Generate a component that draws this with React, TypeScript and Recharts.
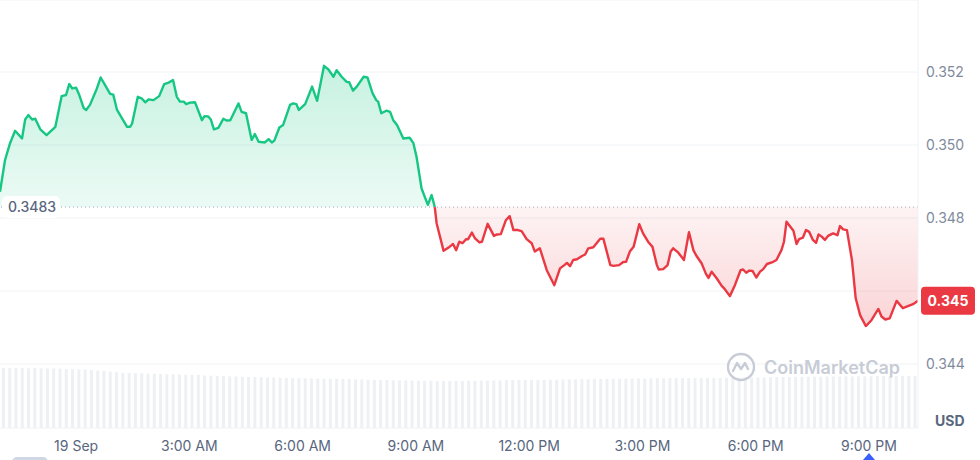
import {
  ComposedChart,
  BarChart,
  Bar,
  Area,
  XAxis,
  YAxis,
  CartesianGrid,
  ReferenceLine,
} from 'recharts';

// minutes from 00:00, 19 Sep
const times = [
  -121, -113, -105, -97, -86, -81, -76, -70, -65, -57,
  -47, -33, -23, -16, -11, -6, 0, 5, 12, 16,
  22, 33, 39, 46, 54, 59, 65, 73, 81, 86,
  89, 98, 104, 110, 115, 123, 132, 140, 147, 154,
  160, 165, 171, 175, 181, 189, 200, 204, 210, 214,
  219, 226, 234, 239, 245, 258, 263, 270, 279, 284,
  290, 300, 306, 311, 315, 323, 329, 340, 345, 350,
  354, 364, 375, 383, 394, 401, 409, 414, 422, 430,
  434, 440, 446, 457, 463, 471, 477, 480, 485, 493,
  499, 504, 510, 520, 530, 536, 541, 549, 559, 565,
  570, 573, 584, 592, 599, 604, 609, 614, 620, 623,
  629, 634, 641, 645, 654, 664, 669, 675, 683, 689,
  695, 702, 708, 716, 724, 729, 737, 748, 760, 769,
  776, 780, 785, 790, 796, 804, 809, 814, 822, 833,
  838, 849, 854, 863, 869, 874, 880, 886, 895, 901,
  909, 916, 923, 926, 933, 940, 945, 949, 957, 966,
  974, 981, 986, 994, 1001, 1005, 1010, 1018, 1026, 1031,
  1039, 1047, 1056, 1060, 1065, 1070, 1075, 1081, 1087, 1092,
  1098, 1108, 1113, 1121, 1125, 1129, 1140, 1145, 1149, 1155,
  1160, 1165, 1171, 1176, 1180, 1185, 1190, 1195, 1203, 1210,
  1214, 1219, 1225, 1233, 1239, 1246, 1255, 1264, 1275, 1280,
  1286, 1293, 1304, 1314, 1320, 1330, 1338,
];

const prices = [
  0.34872, 0.34959, 0.35005, 0.35039, 0.35018, 0.3507, 0.35082, 0.3507, 0.35072, 0.35043,
  0.35027, 0.3505, 0.35134, 0.35137, 0.35167, 0.35155, 0.35157, 0.35137, 0.35101, 0.35096,
  0.3511, 0.35155, 0.35185, 0.35164, 0.3514, 0.35138, 0.35096, 0.35073, 0.3505, 0.3505,
  0.35059, 0.35132, 0.35128, 0.35117, 0.35125, 0.35123, 0.35134, 0.35167, 0.35171, 0.35178,
  0.35132, 0.35119, 0.35119, 0.35112, 0.35116, 0.35117, 0.35068, 0.35079, 0.35078, 0.3507,
  0.35043, 0.35047, 0.35072, 0.35067, 0.35068, 0.35114, 0.35091, 0.35087, 0.35014, 0.3503,
  0.35009, 0.35007, 0.35016, 0.35007, 0.35012, 0.35048, 0.35055, 0.3511, 0.35114, 0.35112,
  0.35096, 0.35112, 0.3516, 0.35121, 0.35217, 0.35207, 0.35187, 0.35205, 0.35187, 0.35173,
  0.35172, 0.35149, 0.3516, 0.35187, 0.35185, 0.35142, 0.35123, 0.35119, 0.35087, 0.35094,
  0.35091, 0.35068, 0.35055, 0.35018, 0.3502, 0.35005, 0.34968, 0.34881, 0.34836, 0.34863,
  0.3483, 0.34785, 0.3471, 0.34719, 0.34729, 0.34712, 0.34735, 0.34731, 0.34742, 0.34742,
  0.3476, 0.34744, 0.34733, 0.34735, 0.34784, 0.34751, 0.34755, 0.34756, 0.34794, 0.34805,
  0.34767, 0.34767, 0.34764, 0.34742, 0.34731, 0.34708, 0.34717, 0.34657, 0.34616, 0.34662,
  0.34671, 0.34677, 0.34668, 0.34685, 0.34687, 0.34696, 0.347, 0.34717, 0.3472, 0.34743,
  0.34743, 0.34671, 0.34669, 0.34671, 0.34679, 0.3468, 0.34708, 0.34721, 0.34783, 0.34758,
  0.34735, 0.34721, 0.34671, 0.34659, 0.3466, 0.34671, 0.34708, 0.34717, 0.34705, 0.34685,
  0.34761, 0.34712, 0.34696, 0.34676, 0.34647, 0.34636, 0.34653, 0.34635, 0.34614, 0.34605,
  0.34586, 0.34616, 0.34657, 0.34659, 0.3465, 0.34656, 0.34655, 0.34637, 0.34653, 0.3466,
  0.34674, 0.3468, 0.34685, 0.34712, 0.34735, 0.3479, 0.34765, 0.34729, 0.34742, 0.34746,
  0.34767, 0.34762, 0.3474, 0.34732, 0.34755, 0.34749, 0.3474, 0.34751, 0.34758, 0.34753,
  0.34778, 0.34769, 0.34767, 0.34685, 0.3458, 0.34534, 0.34504, 0.3452, 0.34551, 0.3453,
  0.34522, 0.34525, 0.34573, 0.34553, 0.34557, 0.34564, 0.34573,
];

// 10 minute volume buckets
const volumes = [
  336, 336, 338, 336, 335, 336, 335, 334, 334, 333,
  331, 330, 329, 328, 325, 322, 320, 316, 313, 310,
  308, 307, 306, 305, 304, 303, 302, 301, 300, 299,
  298, 297, 295, 294, 293, 292, 290, 289, 288, 287,
  286, 285, 284, 283, 281, 280, 280, 279, 279, 278,
  278, 277, 276, 276, 275, 274, 273, 272, 271, 270,
  269, 269, 268, 267, 267, 266, 266, 265, 265, 264,
  264, 264, 264, 264, 265, 265, 266, 266, 267, 267,
  268, 269, 269, 269, 270, 270, 270, 271, 271, 272,
  272, 273, 274, 274, 275, 275, 276, 276, 276, 277,
  278, 278, 278, 279, 279, 279, 280, 280, 280, 280,
  280, 281, 281, 281, 281, 282, 282, 283, 283, 283,
  284, 284, 285, 285, 286, 286, 287, 287, 288, 288,
  288, 289, 289, 289, 290, 290, 290, 290, 291, 291,
  292, 292, 292, 292, 292, 292,
];

const openPrice = 0.3483;
const lastLabel = '0.345';
const priceTicks = [0.344, 0.346, 0.348, 0.35, 0.352];
const timeTicks = [0, 180, 360, 540, 720, 900, 1080, 1260];
const timeLabels = ['19 Sep', '3:00 AM', '6:00 AM', '9:00 AM', '12:00 PM', '3:00 PM', '6:00 PM', '9:00 PM'];

const W = 980;
const H = 460;

const crossIdx = prices.indexOf(openPrice);
const lastPrice = prices[prices.length - 1];

const priceData = times.map((t, i) => ({
  t,
  up: i <= crossIdx ? prices[i] : null,
  down: i >= crossIdx ? prices[i] : null,
}));

const volumeData = volumes.map((v, i) => ({ i, v }));

const renderOpenLabel = (props: any) => {
  const { viewBox } = props;
  const x = viewBox.x;
  const y = viewBox.y;
  return (
    <g>
      <rect x={x + 2} y={y - 11} width={58} height={22} rx={5} fill="#ffffff" />
      <text x={x + 8} y={y} dy={5} fontSize={14} fontWeight={500} fill="#58667e">
        {openPrice}
      </text>
    </g>
  );
};

const renderLastBadge = (props: any) => {
  const { viewBox } = props;
  const x = viewBox.x + viewBox.width + 3;
  const y = viewBox.y;
  return (
    <g>
      <rect x={x} y={y - 14} width={54} height={28} rx={4} fill="#ea3943" />
      <text x={x + 27} y={y} dy={5} textAnchor="middle" fontSize={14} fontWeight={700} fill="#ffffff">
        {lastLabel}
      </text>
    </g>
  );
};

export default function App() {
  return (
    <div
      style={{
        position: 'absolute',
        left: 0,
        top: 0,
        width: W,
        height: H,
        background: '#fff',
        fontFamily: 'Inter, "Noto Sans", sans-serif',
        overflow: 'hidden',
      }}
    >
      <div style={{ position: 'absolute', left: 0, top: 0 }}>
        <BarChart
          width={W}
          height={H}
          data={volumeData}
          margin={{ top: 0, right: 62, left: 0, bottom: 32 }}
          barCategoryGap="30%"
        >
          <XAxis dataKey="i" hide />
          <YAxis hide domain={[0, 2400]} />
          <Bar dataKey="v" fill="#eef1f4" isAnimationActive={false} />
        </BarChart>
      </div>

      <div style={{ position: 'absolute', left: 0, top: 0 }}>
        <ComposedChart
          width={W}
          height={H}
          data={priceData}
          margin={{ top: 0, right: 0, left: 0, bottom: 0 }}
        >
          <defs>
            <linearGradient id="upFill" x1="0" y1="0" x2="0" y2="1">
              <stop offset="0%" stopColor="#16c784" stopOpacity={0.4} />
              <stop offset="100%" stopColor="#16c784" stopOpacity={0.14} />
            </linearGradient>
            <linearGradient id="downFill" x1="0" y1="0" x2="0" y2="1">
              <stop offset="0%" stopColor="#ea3943" stopOpacity={0.1} />
              <stop offset="100%" stopColor="#ea3943" stopOpacity={0.36} />
            </linearGradient>
          </defs>
          <CartesianGrid vertical={false} stroke="#eff2f5" yAxisId="price" />
          <XAxis
            dataKey="t"
            type="number"
            domain={[times[0], times[times.length - 1]]}
            ticks={timeTicks}
            tickFormatter={(v: number) => timeLabels[timeTicks.indexOf(v)]}
            tickLine={false}
            axisLine={false}
            tickMargin={7}
            height={32}
            tick={{ fill: '#58667e', fontSize: 14 }}
            allowDataOverflow
          />
          <YAxis
            yAxisId="price"
            orientation="right"
            width={62}
            domain={[0.342247, 0.353973]}
            ticks={priceTicks}
            tickFormatter={(v: number) => (Math.abs(v - lastPrice) < 0.0008 ? '' : v.toFixed(3))}
            tickLine={false}
            axisLine={{ stroke: '#eff2f5' }}
            tick={{ fill: '#808a9d', fontSize: 14 }}
            allowDataOverflow
          />
          <Area
            yAxisId="price"
            type="linear"
            dataKey="up"
            baseValue={openPrice}
            stroke="#16c784"
            strokeWidth={2.4}
            strokeLinejoin="round"
            fill="url(#upFill)"
            dot={false}
            activeDot={false}
            isAnimationActive={false}
          />
          <Area
            yAxisId="price"
            type="linear"
            dataKey="down"
            baseValue={openPrice}
            stroke="#ea3943"
            strokeWidth={2.4}
            strokeLinejoin="round"
            fill="url(#downFill)"
            dot={false}
            activeDot={false}
            isAnimationActive={false}
          />
          <ReferenceLine
            yAxisId="price"
            y={openPrice}
            stroke="#a1a7bb"
            strokeDasharray="1 3"
            label={renderOpenLabel}
          />
          <ReferenceLine yAxisId="price" y={lastPrice} stroke="none" label={renderLastBadge} />
        </ComposedChart>
      </div>

      {/* watermark */}
      <div
        style={{
          position: 'absolute',
          left: 726,
          top: 352,
          display: 'flex',
          alignItems: 'center',
          gap: 8,
          color: '#c7ccd6',
          fontSize: 18,
          fontWeight: 600,
        }}
      >
        <svg width={30} height={30} viewBox="0 0 30 30">
          <circle cx={15} cy={15} r={13} fill="none" stroke="#c7ccd6" strokeWidth={2.4} />
          <path d="M7 19 L11 11 L15 17 L19 11 L22 17" fill="none" stroke="#c7ccd6" strokeWidth={2.4} strokeLinejoin="round" strokeLinecap="round" />
        </svg>
        <span>CoinMarketCap</span>
      </div>

      <div
        style={{
          position: 'absolute',
          left: 935,
          top: 412,
          color: '#58667e',
          fontSize: 14,
          fontWeight: 700,
        }}
      >
        USD
      </div>

      <div
        style={{
          position: 'absolute',
          left: 12,
          top: 457,
          width: 36,
          height: 10,
          borderRadius: 5,
          background: '#cfd6e4',
        }}
      />
      <svg style={{ position: 'absolute', left: 863, top: 453 }} width={12} height={7}>
        <path d="M6 0 L12 7 L0 7 Z" fill="#3861fb" />
      </svg>
    </div>
  );
}
